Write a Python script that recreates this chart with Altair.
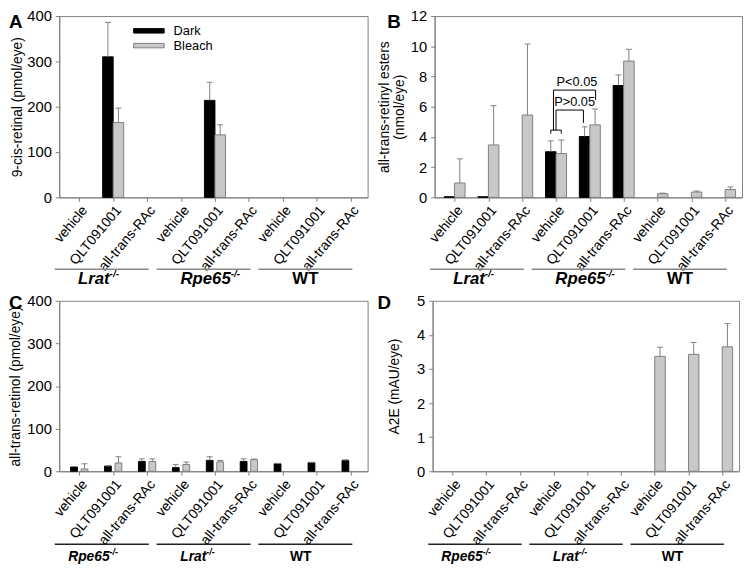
import altair as alt
import pandas as pd

FONT = "Liberation Sans"
GRAY = "#7f7f7f"
LIGHT = "#c8c8c8"

treatments = ["vehicle", "QLT091001", "all-trans-RAc"]
conditions = ["Dark", "Bleach"]

# Panel A: 9-cis-retinal (pmol/eye)
a_groups = ["Lrat", "Rpe65", "WT"]
a_dark = [None, 310, None, None, 214, None, None, None, None]
a_dark_err = [0, 76, 0, 0, 40, 0, 0, 0, 0]
a_bleach = [None, 165, None, None, 138, None, None, None, None]
a_bleach_err = [0, 32, 0, 0, 22, 0, 0, 0, 0]

# Panel B: all-trans-retinyl esters (nmol/eye)
b_groups = ["Lrat", "Rpe65", "WT"]
b_dark = [0.04, 0.04, None, 3.02, 4.03, 7.4, None, None, None]
b_dark_err = [0, 0, 0, 0.72, 0.64, 0.7, 0, 0, 0]
b_bleach = [0.95, 3.47, 5.45, 2.9, 4.8, 9.02, 0.24, 0.35, 0.52]
b_bleach_err = [1.6, 2.6, 4.7, 0.9, 1.05, 0.78, 0.04, 0.07, 0.17]

# Panel C: all-trans-retinol (pmol/eye)
c_groups = ["Rpe65", "Lrat", "WT"]
c_dark = [10, 12, 23, 8.5, 25.5, 23, 17.5, 20, 25]
c_dark_err = [1, 1, 6, 7, 8.5, 6, 1, 1, 2]
c_bleach = [5.5, 19.5, 23, 16, 22, 27.5, None, None, None]
c_bleach_err = [12, 14.5, 6, 5.5, 3.5, 1, 0, 0, 0]

# Panel D: A2E (mAU/eye)
d_groups = ["Rpe65", "Lrat", "WT"]
d_dark = [None, None, None, None, None, None, None, None, None]
d_dark_err = [0, 0, 0, 0, 0, 0, 0, 0, 0]
d_bleach = [None, None, None, None, None, None, 3.37, 3.43, 3.65]
d_bleach_err = [0, 0, 0, 0, 0, 0, 0.27, 0.35, 0.68]

# significance brackets in panel B (x: category index, y: nmol/eye)
br_x1 = [2.845, 2.845, 3.155, 3.0, 3.0, 3.81, 2.925, 2.925, 4.17]
br_y1 = [4.22, 4.45, 4.45, 4.45, 5.78, 5.78, 4.45, 7.1, 7.1]
br_x2 = [2.845, 3.155, 3.155, 3.0, 3.81, 3.81, 2.925, 4.17, 4.17]
br_y2 = [4.45, 4.45, 4.22, 5.78, 5.78, 4.93, 7.1, 7.1, 6.45]
p_labels = ["P<0.05", "P>0.05"]
p_x = [3.62, 3.55]
p_y = [7.1, 5.78]

XDOM = [-0.59, 8.5]
LABEL_EXPR = "[" + ",".join("'%s'" % t for t in treatments) + "][datum.value % 3]"
SYMBOL = "M-3.1,-0.45L3.1,-0.45L3.1,0.45L-3.1,0.45Z"

TOP_ROW = dict(offsets={"Lrat": 0.23, "Rpe65": 0.8, "WT": 0.0}, size=17, sup=10,
               sup_dy=-7, line_dy=73, text_dy=88, line_color="#888888")
BOTTOM_ROW = dict(offsets={"Rpe65": 0.23, "Lrat": 0.08, "WT": -0.14}, size=14, sup=9,
                  sup_dy=-6, line_dy=74, text_dy=91, line_color="#222222")


def bars_df(dark, dark_err, bleach, bleach_err):
    rows = []
    for i in range(9):
        for cond, vals, errs in (("Dark", dark, dark_err), ("Bleach", bleach, bleach_err)):
            if vals[i] is None:
                continue
            rows.append(dict(idx=i, cond=cond, value=vals[i], err=errs[i], hi=vals[i] + errs[i]))
    return pd.DataFrame(rows)


def panel(letter, df, groups, ymax, ystep, ytitle, w, h, half, leg_xy, letter_xy,
          row, title_pad, brackets=False):
    xs = alt.Scale(domain=XDOM, nice=False, zero=False)
    ys = alt.Scale(domain=[0, ymax], nice=False, zero=True)
    xaxis = alt.Axis(values=list(range(9)), labelExpr=LABEL_EXPR, labelAngle=310,
                     labelAlign="right", labelBaseline="top", labelFontSize=14,
                     labelPadding=2, labelFlush=False, labelOverlap=False,
                     tickSize=4, title=None, grid=False)
    yaxis = alt.Axis(values=list(range(0, ymax + 1, ystep)), labelFontSize=15,
                     tickSize=4, labelPadding=4, title=ytitle, titleFontSize=14,
                     titleFontWeight="normal", titlePadding=title_pad, titleLineHeight=15,
                     grid=False)

    def X(f):
        return alt.X(f, scale=xs, axis=xaxis)

    def Y(f):
        return alt.Y(f, scale=ys, axis=yaxis)

    legend = alt.Legend(orient="none", legendX=leg_xy[0], legendY=leg_xy[1], title=None,
                        symbolType=SYMBOL, symbolSize=100, symbolStrokeColor=GRAY,
                        symbolStrokeWidth=1, labelFontSize=13, labelFont=FONT,
                        labelOffset=18.5, rowPadding=1, padding=0, direction="vertical")
    base = alt.Chart(df).transform_calculate(
        xc="datum.idx + (datum.cond == 'Dark' ? -0.155 : 0.155)", z="0"
    ).transform_calculate(
        x0="datum.xc - %s" % half, x1="datum.xc + %s" % half,
        c0="datum.xc - 0.087", c1="datum.xc + 0.087")
    bars = base.mark_bar(strokeWidth=1).encode(
        x=X("x0:Q"), x2="x1:Q",
        y=Y("value:Q"), y2="z:Q",
        fill=alt.Fill("cond:N", scale=alt.Scale(domain=conditions, range=["black", LIGHT]),
                      legend=legend),
        stroke=alt.Stroke("cond:N", scale=alt.Scale(domain=conditions, range=["black", GRAY]),
                          legend=None),
    )
    err = base.transform_filter("datum.err > 0")
    whisk = err.mark_rule(color=GRAY, strokeWidth=1).encode(
        x=X("xc:Q"), y=Y("value:Q"), y2="hi:Q")
    caps = err.mark_rule(color=GRAY, strokeWidth=1).encode(
        x=X("c0:Q"), x2="c1:Q", y=Y("hi:Q"))

    offs = row["offsets"]
    gdf = pd.DataFrame({"g": [0, 1, 2], "name": groups, "off": [offs[n] for n in groups]})
    gbase = alt.Chart(gdf).transform_calculate(
        x0="datum.g * 3 - 0.72", x1="datum.g * 3 + 2.05",
        anchor="datum.g * 3 + 0.665 + datum.off",
        sup="'-/-'")
    glines = gbase.mark_rule(color=row["line_color"], strokeWidth=1.5).encode(
        x=X("x0:Q"), x2="x1:Q", y=alt.value(h + row["line_dy"]))
    gmain = gbase.transform_filter("datum.name != 'WT'").mark_text(
        align="right", baseline="alphabetic", font=FONT, fontSize=row["size"],
        fontWeight="bold", fontStyle="italic", color="black").encode(
        x=X("anchor:Q"), y=alt.value(h + row["text_dy"]), text="name:N")
    gsup = gbase.transform_filter("datum.name != 'WT'").mark_text(
        align="left", baseline="alphabetic", font=FONT, fontSize=row["sup"],
        fontWeight="bold", fontStyle="italic", color="black", dy=row["sup_dy"]).encode(
        x=X("anchor:Q"), y=alt.value(h + row["text_dy"]), text="sup:N")
    gwt = gbase.transform_filter("datum.name == 'WT'").mark_text(
        align="center", baseline="alphabetic", font=FONT, fontSize=row["size"],
        fontWeight="bold", color="black").encode(
        x=X("anchor:Q"), y=alt.value(h + row["text_dy"]), text="name:N")
    let = alt.Chart(pd.DataFrame({"t": [letter]})).mark_text(
        align="left", baseline="alphabetic", font=FONT, fontSize=19, fontWeight="bold",
        color="black").encode(text="t:N", x=alt.value(letter_xy[0]), y=alt.value(letter_xy[1]))

    layers = [bars, whisk, caps, glines, gmain, gsup, gwt, let]
    if brackets:
        br_df = pd.DataFrame({"x1": br_x1, "y1": br_y1, "x2": br_x2, "y2": br_y2})
        layers.append(alt.Chart(br_df).mark_rule(color="black", strokeWidth=1).encode(
            x=X("x1:Q"), x2="x2:Q", y=Y("y1:Q"), y2="y2:Q"))
        p_df = pd.DataFrame({"t": p_labels, "x": p_x, "y": p_y})
        layers.append(alt.Chart(p_df).mark_text(
            align="center", baseline="bottom", font=FONT, fontSize=13, color="black",
            dy=-1).encode(x=X("x:Q"), y=Y("y:Q"), text="t:N"))
    return alt.layer(*layers).properties(width=w, height=h)


A = panel("A", bars_df(a_dark, a_dark_err, a_bleach, a_bleach_err), a_groups, 400, 100,
          "9-cis-retinal (pmol/eye)", 313, 184, 0.155, (84.5, 8.5), (-51, 12), TOP_ROW, 2)
B = panel("B", bars_df(b_dark, b_dark_err, b_bleach, b_bleach_err), b_groups, 12, 2,
          ["all-trans-retinyl esters", "(nmol/eye)"], 312, 184, 0.155, (24.5, 4.5), (-48, 12),
          TOP_ROW, 4, brackets=True)
C = panel("C", bars_df(c_dark, c_dark_err, c_bleach, c_bleach_err), c_groups, 400, 100,
          "all-trans-retinol (pmol/eye)", 313, 173, 0.1, (31.5, 15.5), (-51, 8), BOTTOM_ROW, 4)
D = panel("D", bars_df(d_dark, d_dark_err, d_bleach, d_bleach_err), d_groups, 5, 1,
          "A2E (mAU/eye)", 311, 173, 0.155, (32.5, 7.5), (-56, 8), BOTTOM_ROW, 15)

chart = alt.vconcat(
    alt.hconcat(A, B, spacing=8),
    alt.hconcat(C, D, spacing=8),
    spacing=5,
).properties(padding={"left": 0, "top": -4, "right": 0, "bottom": 0}).configure_view(
    stroke=GRAY, strokeWidth=1
).configure_axis(
    labelFont=FONT, titleFont=FONT, domainColor=GRAY, tickColor=GRAY,
    labelColor="black", titleColor="black", grid=False
)

chart.save("out.html", embed_options={"renderer": "svg", "actions": False})
